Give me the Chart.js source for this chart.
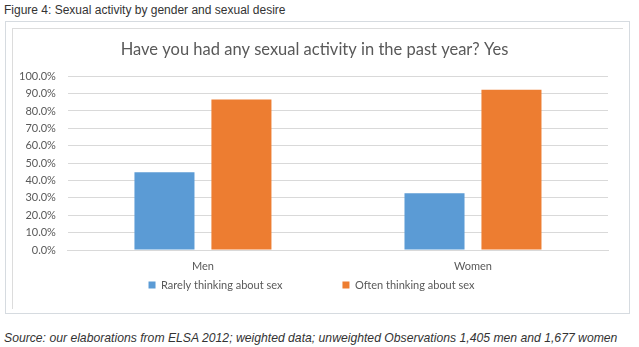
<!DOCTYPE html>
<html>
<head>
<meta charset="utf-8">
<script src="https://cdn.jsdelivr.net/npm/chart.js@4/dist/chart.umd.min.js"></script>
<style>
  html, body { margin: 0; padding: 0; background: #fff; width: 639px; height: 347px; overflow: hidden; }
  #caption { position: absolute; left: 4px; top: 3px; font: 12px "Liberation Sans", Arial, sans-serif; color: #333; white-space: nowrap; }
  #outer { position: absolute; left: 5px; top: 21px; width: 623px; height: 291px; border: 1px solid #d6dbe0; box-sizing: content-box; }
  #innerTop { position: absolute; left: 12px; top: 28px; width: 611px; height: 1px; background: #dcdcdc; }
  #innerLeft { position: absolute; left: 12px; top: 28px; width: 1px; height: 281px; background: #dcdcdc; }
  #wrap { position: absolute; left: 13px; top: 29px; width: 610px; height: 280px; }
  #source { position: absolute; left: 4px; top: 331px; font: italic 12.2px "Liberation Sans", Arial, sans-serif; color: #333; white-space: nowrap; }
</style>
</head>
<body>
<div id="caption">Figure 4: Sexual activity by gender and sexual desire</div>
<div id="outer"></div>
<div id="innerTop"></div>
<div id="innerLeft"></div>
<div id="wrap"><canvas id="c"></canvas></div>
<div id="source">Source: our elaborations from ELSA 2012; weighted data; unweighted Observations 1,405 men and 1,677 women</div>
<script>
const categories = ["Men", "Women"];
const seriesNames = ["Rarely thinking about sex", "Often thinking about sex"];
const rarelyValues = [44.8, 32.7];
const oftenValues = [86.6, 92.2];
const yTicks = [0, 10, 20, 30, 40, 50, 60, 70, 80, 90, 100];

const FONT = "Lato, 'Open Sans', sans-serif";
const TXT = "#595959";
const LEGEND_GAP = 60;

// Keep a wide horizontal gap between legend items without a tall legend box,
// and nudge the title / legend horizontally to sit where the original does.
const boxTweaks = {
  id: "boxTweaks",
  beforeInit(chart) {
    const lg = chart.legend;
    if (lg) {
      const fit0 = lg.fit;
      lg.fit = function () { fit0.call(this); this.height = 20; };
      const draw0 = lg.draw;
      lg.draw = function (area) {
        const t = this.top, l = this.left, r = this.right;
        this.top = t + 1.8 - (LEGEND_GAP + 5.5);
        this.left = l + 4; this.right = r + 4;
        draw0.call(this, area);
        this.top = t; this.left = l; this.right = r;
      };
    }
    const tt = chart.titleBlock;
    if (tt) {
      const tdraw0 = tt.draw;
      tt.draw = function () {
        const l = this.left, r = this.right;
        this.left = l + 7; this.right = r + 7;
        tdraw0.call(this);
        this.left = l; this.right = r;
      };
    }
  }
};

new Chart(document.getElementById("c"), {
  type: "bar",
  data: {
    labels: categories,
    datasets: [
      { label: seriesNames[0], data: rarelyValues, backgroundColor: "#5B9BD5", categoryPercentage: 0.57, barPercentage: 0.78 },
      { label: seriesNames[1], data: oftenValues, backgroundColor: "#ED7D31", categoryPercentage: 0.57, barPercentage: 0.78 }
    ]
  },
  plugins: [boxTweaks],
  options: {
    responsive: true,
    maintainAspectRatio: false,
    animation: false,
    devicePixelRatio: 1,
    layout: { padding: { left: -6, right: 15, top: 10.8, bottom: 5.8 } },
    plugins: {
      title: {
        display: true,
        text: "Have you had any sexual activity in the past year? Yes",
        color: TXT,
        font: { family: FONT, size: 16.5, weight: "normal" },
        padding: { top: 0, bottom: 16.6 }
      },
      legend: {
        display: true,
        position: "bottom",
        labels: {
          color: TXT,
          font: { family: FONT, size: 11 },
          boxWidth: 7,
          boxHeight: 7,
          padding: LEGEND_GAP
        }
      },
      tooltip: { enabled: false }
    },
    scales: {
      x: {
        grid: { display: false, drawTicks: false },
        border: { display: true, color: "#d9d9d9" },
        ticks: { color: TXT, font: { family: FONT, size: 11 }, padding: 10 }
      },
      y: {
        min: 0,
        max: 100,
        afterBuildTicks: (axis) => { axis.ticks = yTicks.map(v => ({ value: v })); },
        grid: { color: "#d9d9d9", drawTicks: false },
        border: { display: false },
        ticks: {
          color: TXT,
          autoSkip: false,
          font: { family: FONT, size: 11 },
          padding: 12,
          callback: (v) => v.toFixed(1) + "%"
        }
      }
    }
  }
});
</script>
</body>
</html>
